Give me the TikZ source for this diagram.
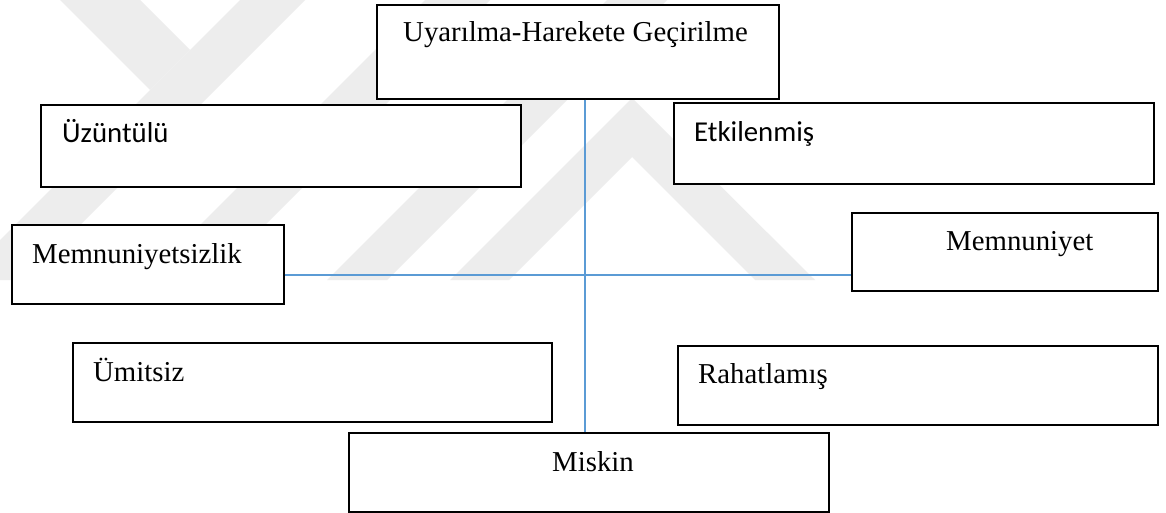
\documentclass[tikz,border=0pt]{standalone}
\usepackage{fontspec}
\setmainfont{Liberation Serif}
\newfontfamily\calib{Carlito}
\definecolor{wmgray}{HTML}{EDEDED}
\definecolor{axisblue}{HTML}{5B9BD5}
\tikzset{
  box/.style={draw=black, line width=1.6pt, fill=white, inner sep=0pt, anchor=north west},
  lbl/.style={anchor=base west, inner sep=0pt, font=\fontsize{28.8}{32}\selectfont},
  lblsans/.style={lbl, font=\calib\fontsize{28.8}{32}\selectfont},
  axis/.style={draw=axisblue, line width=1.3pt},
  wm/.style={fill=wmgray, draw=none}
}
\begin{document}
\begin{tikzpicture}[x=1pt, y=-1pt]
\useasboundingbox (0,0) rectangle (1166,513);
\fill[white] (0,0) rectangle (1166,513);

% faint background emblem
\fill[wm] (60,0) -- (140,0) -- (190,50) -- (150,90) -- cycle;
\fill[wm] (-40,280) -- (25,280) -- (305,0) -- (240,0) -- cycle;
\fill[wm] (145,280) -- (210,280) -- (490,0) -- (425,0) -- cycle;
\fill[wm] (327,280) -- (387,280) -- (667,0) -- (607,0) -- cycle;
\fill[wm] (450,280) -- (632,98) -- (815,280) -- (755,280) -- (632,157) -- (509,280) -- cycle;

% axes
\coordinate (vx) at (585,0);
\coordinate (hy) at (0,275);

% boxes
\node[box, minimum width=402pt, minimum height=94pt] (top) at (376,4) {};
\node[box, minimum width=480pt, minimum height=82pt] (uzun) at (40,104) {};
\node[box, minimum width=480pt, minimum height=81pt] (etki) at (673,102) {};
\node[box, minimum width=272pt, minimum height=79pt] (msiz) at (11,224) {};
\node[box, minimum width=306pt, minimum height=78pt] (mnun) at (851,212) {};
\node[box, minimum width=479pt, minimum height=79pt] (umit) at (72,342) {};
\node[box, minimum width=480pt, minimum height=79pt] (raha) at (677,345) {};

\draw[axis] (msiz.east |- hy) -- (mnun.west |- hy);

\node[box, minimum width=480pt, minimum height=79pt] (misk) at (348,432) {};
\draw[axis] (vx |- top.south) -- (vx |- misk.north);

% labels
\node[lbl] (ttop) at (403,42) {Uyarılma-Harekete Geçirilme};
\node[lblsans] (tuzun) at (62,143) {Üzüntülü};
\node[lblsans] (tetki) at (694,142) {Etkilenmiş};
\node[lbl] (tmsiz) at (32,263) {Memnuniyetsizlik};
\node[lbl] (tmnun) at (946,250) {Memnuniyet};
\node[lbl] (tumit) at (93,381) {Ümitsiz};
\node[lbl] (traha) at (698,383) {Rahatlamış};
\node[lbl] (tmisk) at (552,471) {Miskin};
\end{tikzpicture}
\end{document}
